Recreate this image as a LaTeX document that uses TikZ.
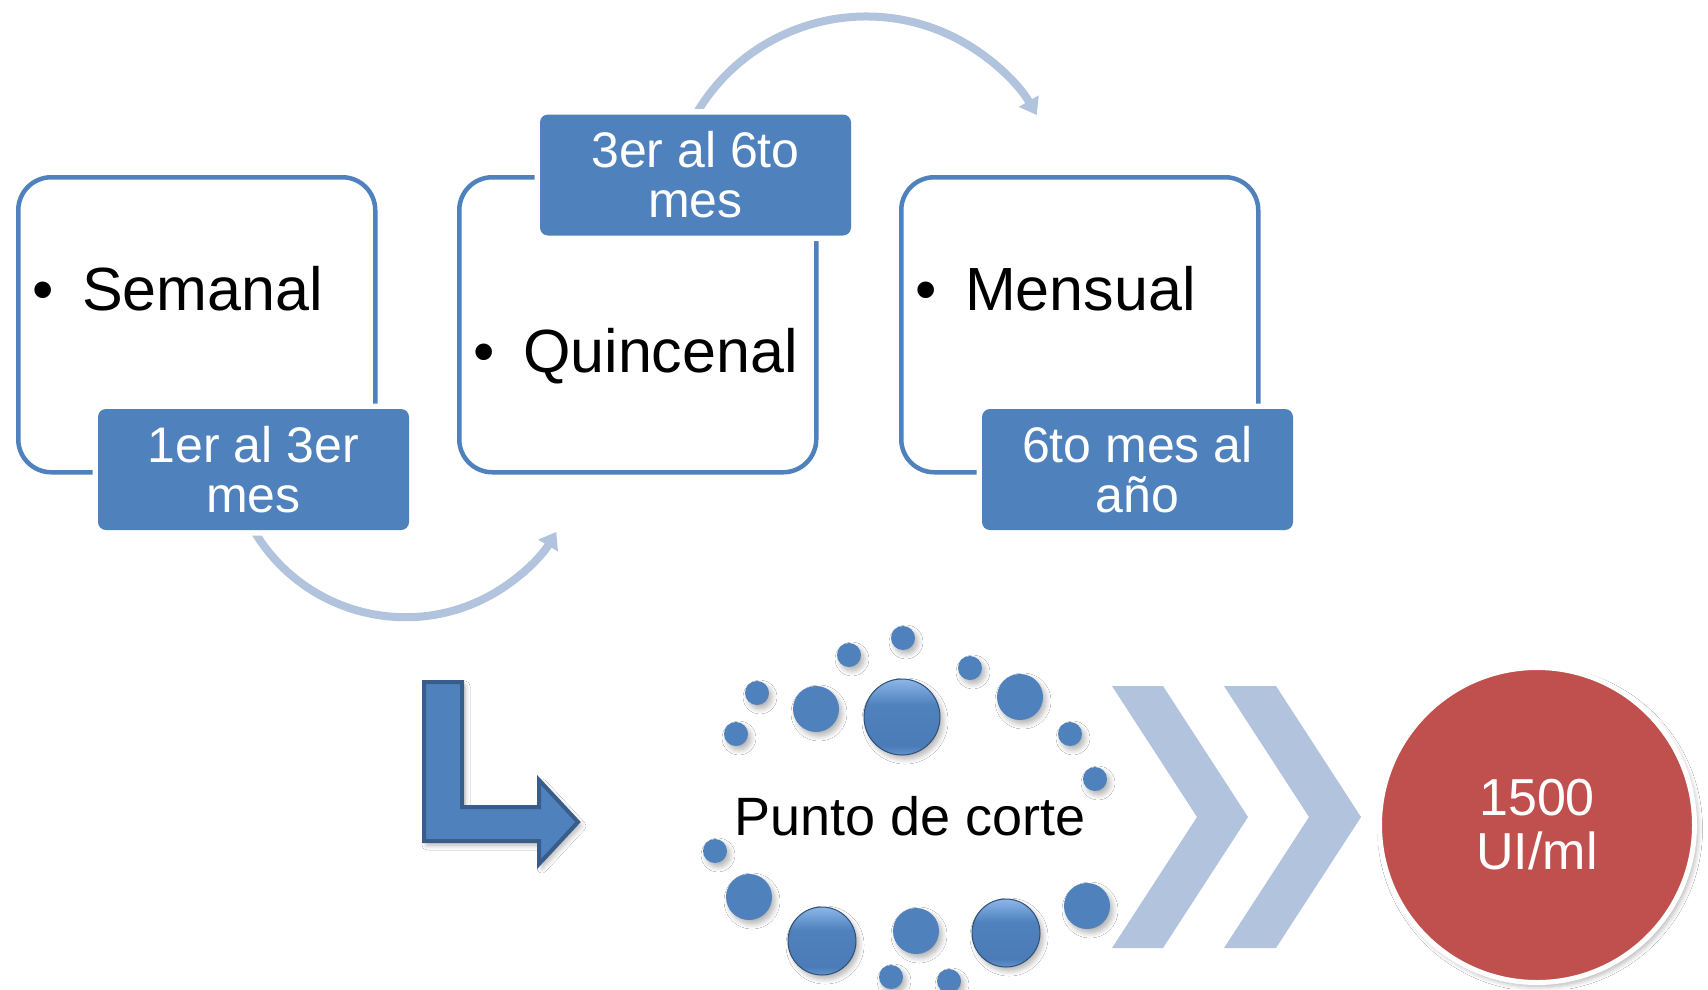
\documentclass[tikz,border=0pt]{standalone}
\usepackage{fontspec}
\setmainfont{Liberation Sans}
\usetikzlibrary{arrows.meta,shadows,shadows.blur}

\definecolor{acc}{RGB}{79,129,189}
\definecolor{accdark}{RGB}{56,93,138}
\definecolor{pale}{RGB}{178,195,222}
\definecolor{redc}{RGB}{192,80,77}
\definecolor{orbtop}{RGB}{140,182,232}
\definecolor{orbbot}{RGB}{100,148,206}
\definecolor{orbmid}{RGB}{76,124,184}

\pgfdeclareverticalshading{orbshade}{100bp}{color(0bp)=(orbbot); color(25bp)=(orbbot); color(31bp)=(orbmid); color(58bp)=(acc); color(70bp)=(orbtop!70!acc); color(75bp)=(orbtop); color(100bp)=(orbtop)}

\tikzset{
  frame/.style={draw=acc, line width=4.5pt, rounded corners=33pt, minimum width=357pt, minimum height=295pt, inner sep=0pt, anchor=north west},
  tag/.style={fill=acc, rounded corners=8pt, minimum width=311pt, minimum height=121pt, inner sep=0pt, text=white, align=center, font=\fontsize{50}{50}\selectfont, preaction={draw=white, line width=11pt}},
  bul/.style={anchor=base west, inner sep=0pt, font=\fontsize{61}{61}\selectfont},
  flow/.style={draw=pale, line width=8pt, -{Triangle[length=16pt,width=22pt]}},
  softshadow/.style={blur shadow={shadow xshift=3pt, shadow yshift=-4pt, shadow blur radius=5pt, shadow blur steps=8, shadow opacity=30}},
  bead/.style={circle, fill=acc, inner sep=0pt, minimum size=#1, softshadow},
  orb/.style={circle, inner sep=0pt, minimum size=#1, draw=accdark!85!black, line width=1pt, shading=orbshade, softshadow},
  chev/.style={fill=pale},
}

\begin{document}
\begin{tikzpicture}[x=1pt,y=1pt]
\useasboundingbox (0,0) rectangle (1708,-989);
\fill[white] (0,0) rectangle (1708,-989);

% boxes
\node[frame] (box1) at (16,-175) {};
\node[frame] (box2) at (457,-175) {};
\node[frame] (box3) at (899,-175) {};

% curved connectors
\coordinate (c1) at (253.5,-530);
\coordinate (c2) at (695.5,-115);
\draw[flow] (c1) arc[start angle=210.3, end angle=329, radius=176];
\draw[flow] (c2) arc[start angle=150, end angle=30, radius=197];

% tags
\node[tag] (tag1) at (253.5,-469.5) {1er al 3er\\mes};
\node[tag] (tag2) at (695.5,-175) {3er al 6to\\mes};
\node[tag] (tag3) at (1137.5,-469.5) {6to mes al\\año};

% bullet texts
\node[bul] (t1) at (32,-310) {\makebox[50pt][l]{•}Semanal};
\node[bul] (t2) at (473,-372) {\makebox[50pt][l]{•}Quincenal};
\node[bul] (t3) at (915,-310) {\makebox[50pt][l]{•}Mensual};

% bent arrow
\path[fill=acc, draw=accdark, line width=4pt, line join=miter, softshadow]
  (424,-682) -- (462,-682) -- (462,-807) -- (539,-807) -- (539,-780) -- (578,-822)
  -- (539,-864) -- (539,-841) -- (424,-841) -- cycle;

% dots
\node[bead=24pt] (s1) at (736,-734) {};
\node[bead=24pt] (s2) at (757,-693) {};
\node[bead=24pt] (s3) at (849,-655) {};
\node[bead=24pt] (s4) at (903,-638) {};
\node[bead=24pt] (s5) at (970,-668) {};
\node[bead=24pt] (s6) at (1070,-734) {};
\node[bead=24pt] (s7) at (1095,-779) {};
\node[bead=24pt] (s8) at (715,-851) {};
\node[bead=24pt] (s9) at (891,-977) {};
\node[bead=24pt] (s10) at (949,-981) {};
\node[bead=46pt] (m1) at (816,-709) {};
\node[bead=46pt] (m2) at (1020,-697) {};
\node[bead=46pt] (m3) at (749,-897) {};
\node[bead=46pt] (m4) at (916,-931) {};
\node[bead=46pt] (m5) at (1087,-906) {};
\node[orb=76pt] (o1) at (902,-717) {};
\node[orb=68pt] (o2) at (822,-941) {};
\node[orb=68pt] (o3) at (1006,-933) {};

\node[anchor=base, inner sep=0pt, font=\fontsize{54}{54}\selectfont] (cut) at (910,-835) {Punto de corte};

% chevrons
\fill[chev] (1112,-686) -- (1163,-686) -- (1248,-817) -- (1163,-948) -- (1112,-948) -- (1197,-817) -- cycle;
\fill[chev] (1224,-686) -- (1276,-686) -- (1361,-817) -- (1276,-948) -- (1224,-948) -- (1309,-817) -- cycle;

% result circle
\node[circle, fill=redc, draw=white, line width=5pt, minimum size=315pt, inner sep=0pt, softshadow, text=white, align=center, font=\fontsize{52}{54}\selectfont] (res) at (1537,-825) {1500\\UI/ml};
\end{tikzpicture}
\end{document}
